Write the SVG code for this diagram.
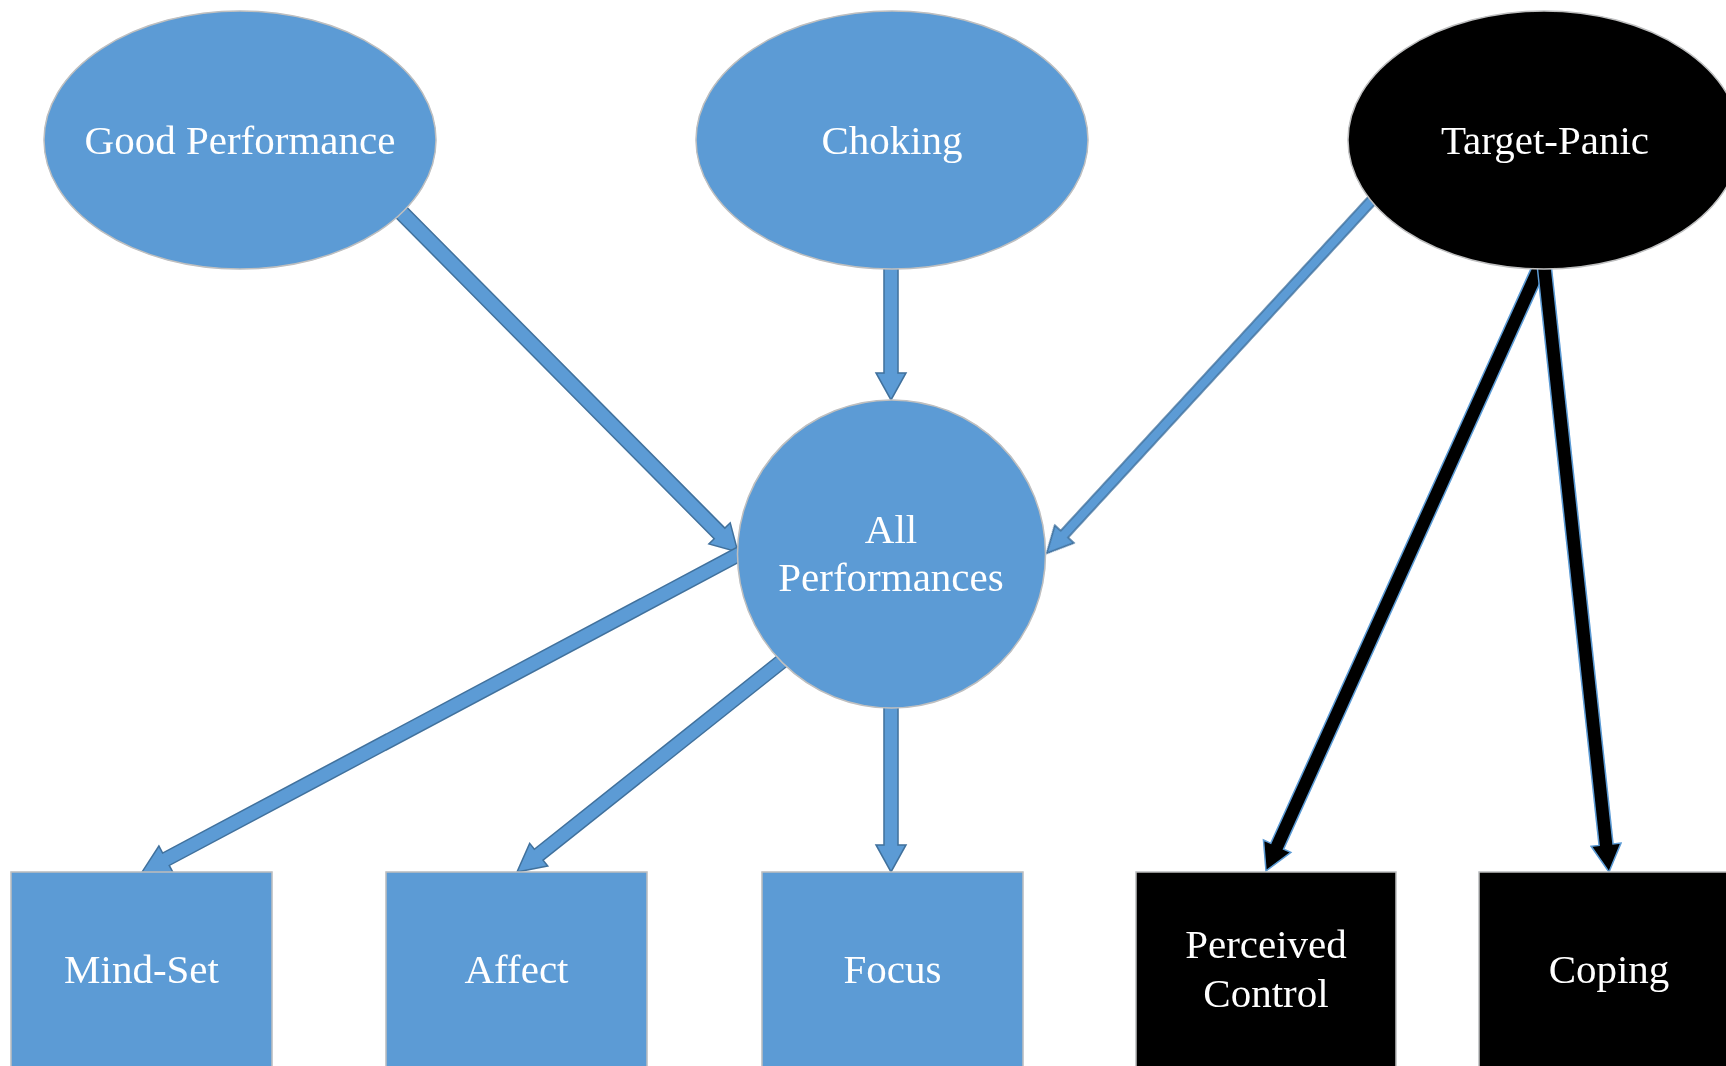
<svg xmlns="http://www.w3.org/2000/svg" width="1726" height="1066" viewBox="0 0 1726 1066">
<defs>
<filter id="glow" x="-10%" y="-10%" width="120%" height="125%">
<feGaussianBlur in="SourceAlpha" stdDeviation="4"/>
<feOffset dy="3"/>
<feFlood flood-color="#9dc3e6" flood-opacity="0.6"/>
<feComposite operator="in" in2="SourceAlpha"/>
<feComposite operator="in"/>
<feMerge><feMergeNode/><feMergeNode in="SourceGraphic"/></feMerge>
</filter>
<filter id="aglow" x="-20%" y="-20%" width="140%" height="140%">
<feGaussianBlur in="SourceAlpha" stdDeviation="2.5"/>
<feFlood flood-color="#9dc3e6" flood-opacity="0.5"/>
<feComposite operator="in" in2="SourceAlpha"/>
<feMerge><feMergeNode/><feMergeNode in="SourceGraphic"/></feMerge>
</filter>
</defs>
<style>
.blue{fill:#5b9bd5;stroke:#bfbfbf;stroke-width:1.5}
.dark{fill:#000000;stroke:#bfbfbf;stroke-width:1.5}
.arr{fill:#5b9bd5;stroke:#41719c;stroke-width:1.5;stroke-linejoin:miter}
.barr{fill:#000000;stroke:#5b9bd5;stroke-width:1.5;stroke-linejoin:miter}
text{font-family:"Liberation Serif","Times New Roman",serif;font-size:41px;fill:#ffffff;text-anchor:middle}
</style>
<rect x="0" y="0" width="1726" height="1066" fill="#ffffff"/>
<g id="connectors" filter="url(#aglow)">
<polygon class="arr" points="0,-7.5 461,-7.5 461,-15 487,0 461,15 461,7.5 0,7.5" transform="translate(395,206) rotate(45.25)"/>
<polygon class="arr" points="0,-7 108,-7 108,-15 135,0 108,15 108,7 0,7" transform="translate(891,265) rotate(90)"/>
<polygon class="arr" points="0,-5 457,-5 457,-13 483,0 457,13 457,5 0,5" transform="translate(1374,198) rotate(132.65)"/>
<polygon class="arr" points="0,-7 656,-7 656,-15 683,0 656,15 656,7 0,7" transform="translate(745,551) rotate(151.97)"/>
<polygon class="arr" points="0,-7 316,-7 316,-14.5 343.7,0 316,14.5 316,7 0,7" transform="translate(786,658) rotate(141.5)"/>
<polygon class="arr" points="0,-7 143,-7 143,-15 170,0 143,15 143,7 0,7" transform="translate(891,702) rotate(90)"/>
<polygon class="barr" points="0,-7 637,-7 637,-15 664,0 637,15 637,7 0,7" transform="translate(1540,266) rotate(114.37)"/>
<polygon class="barr" points="0,-7 584,-7 584,-15 611.5,0 584,15 584,7 0,7" transform="translate(1544,264) rotate(83.9)"/>
</g>
<g id="good-performance" filter="url(#glow)">
<ellipse class="blue" cx="240" cy="140" rx="196" ry="129"/>
<text x="240" y="154">Good Performance</text>
</g>
<g id="choking" filter="url(#glow)">
<ellipse class="blue" cx="892" cy="140" rx="196" ry="129"/>
<text x="892" y="154">Choking</text>
</g>
<g id="target-panic" filter="url(#glow)">
<ellipse class="dark" cx="1544" cy="140" rx="196" ry="129"/>
<text x="1545" y="154">Target-Panic</text>
</g>
<g id="all-performances" filter="url(#glow)">
<circle class="blue" cx="891.5" cy="554" r="154"/>
<text x="891" y="543">All</text>
<text x="891" y="591">Performances</text>
</g>
<g id="mind-set" filter="url(#glow)">
<rect class="blue" x="11" y="872" width="261" height="200"/>
<text x="141.5" y="983">Mind-Set</text>
</g>
<g id="affect" filter="url(#glow)">
<rect class="blue" x="386" y="872" width="261" height="200"/>
<text x="516.5" y="983">Affect</text>
</g>
<g id="focus" filter="url(#glow)">
<rect class="blue" x="762" y="872" width="261" height="200"/>
<text x="892.5" y="983">Focus</text>
</g>
<g id="perceived-control" filter="url(#glow)">
<rect class="dark" x="1136" y="872" width="260" height="200"/>
<text x="1266" y="958">Perceived</text>
<text x="1266" y="1007">Control</text>
</g>
<g id="coping" filter="url(#glow)">
<rect class="dark" x="1479" y="872" width="261" height="200"/>
<text x="1609" y="983">Coping</text>
</g>
</svg>
